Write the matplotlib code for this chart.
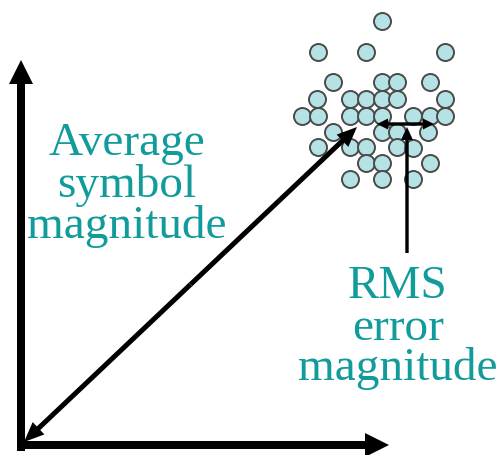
import matplotlib
matplotlib.use("Agg")
import matplotlib.pyplot as plt

# ── Constellation dots (pixel coordinates, y down) ────────────────────────────
dot_x = [382,
         318, 366, 445,
         333, 382, 397, 430,
         317, 350, 366, 382, 397, 445,
         302, 318, 350, 366, 382, 413, 430, 445,
         333, 382, 397, 428,
         318, 350, 366, 397, 413,
         366, 382, 430,
         350, 382, 413]
dot_y = [22,
         53, 53, 53,
         83, 83, 83, 83,
         100, 100, 100, 100, 100, 100,
         117, 117, 117, 117, 117, 117, 117, 117,
         133, 133, 133, 133,
         148, 148, 148, 148, 149,
         164, 164, 164,
         180, 180, 180]

left_lines = ["Average", "symbol", "magnitude"]
left_baselines = [155, 197, 238]
right_lines = ["RMS", "error", "magnitude"]
right_baselines = [298, 340, 380]

TEAL = "#129b9b"
W, H = 502, 456

fig = plt.figure(figsize=(W / 100, H / 100), dpi=100)
ax = fig.add_axes([0, 0, 1, 1])
ax.set_xlim(0, W)
ax.set_ylim(H, 0)
ax.axis("off")

ax.scatter(dot_x, dot_y, s=150, facecolor="#b5e2e4", edgecolor="#4a4a4a",
           linewidth=1.4, zorder=1)


def arrow(x0, y0, x1, y1, width, hw, hl):
    ax.arrow(x0, y0, x1 - x0, y1 - y0, width=width, head_width=hw,
             head_length=hl, length_includes_head=True, color="black",
             linewidth=0, zorder=3)


# axes
arrow(21, 452, 21, 61, 8, 24, 24)
arrow(17, 446, 389, 446, 8, 24, 24)

# diagonal double-headed arrow
mx, my = (24 + 357) / 2, (443 + 128) / 2
arrow(mx, my, 357, 128, 5, 17, 20)
arrow(mx, my, 24, 443, 5, 17, 20)

# RMS error bar + pointer
arrow(405, 125, 377, 125, 3.4, 11, 11)
arrow(405, 125, 434, 125, 3.4, 11, 11)
arrow(407, 254, 407, 128, 3.4, 12, 13)

for txt, yb in zip(left_lines, left_baselines):
    ax.text(127, yb, txt, ha="center", va="baseline", fontsize=34,
            family="Liberation Serif", color=TEAL)
for txt, yb in zip(right_lines, right_baselines):
    ax.text(398, yb, txt, ha="center", va="baseline", fontsize=34,
            family="Liberation Serif", color=TEAL)

fig.savefig("out.png", dpi=100)
